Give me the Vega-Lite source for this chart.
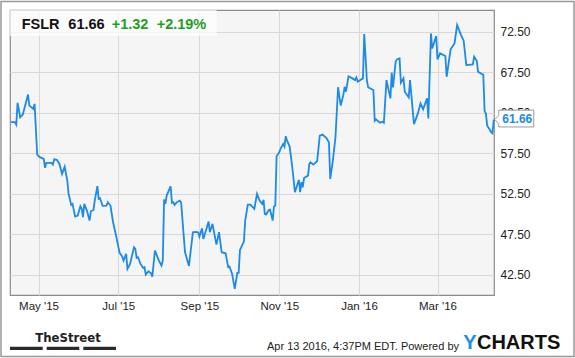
{
  "$schema": "https://vega.github.io/schema/vega-lite/v6.json",
  "width": 484,
  "height": 285,
  "autosize": {"type": "none"},
  "padding": {"left": 10, "top": 10, "right": 81, "bottom": 63},
  "background": "white",
  "config": {
    "view": {"stroke": "#8c8c8c", "strokeWidth": 1.2, "fill": "#f5f5f5"},
    "axis": {"gridColor": "#d8d8d8", "gridWidth": 1, "domain": false, "ticks": false, "labelColor": "#222222", "labelFont": "Liberation Sans", "labelFontSize": 12, "title": null},
    "text": {"font": "Liberation Sans"}
  },
  "data": {"values": [
    {"date": "2015-04-10", "price": 61.33}, {"date": "2015-04-13", "price": 61.33}, {"date": "2015-04-14", "price": 61.04},
    {"date": "2015-04-15", "price": 63.71}, {"date": "2015-04-17", "price": 61.94}, {"date": "2015-04-19", "price": 62.27},
    {"date": "2015-04-23", "price": 64.74}, {"date": "2015-04-24", "price": 63.38}, {"date": "2015-04-27", "price": 62.97},
    {"date": "2015-04-28", "price": 63.59}, {"date": "2015-04-30", "price": 57.34}, {"date": "2015-05-02", "price": 57.01},
    {"date": "2015-05-05", "price": 56.80}, {"date": "2015-05-06", "price": 55.69}, {"date": "2015-05-07", "price": 56.31},
    {"date": "2015-05-11", "price": 56.31}, {"date": "2015-05-12", "price": 56.10}, {"date": "2015-05-13", "price": 56.76},
    {"date": "2015-05-15", "price": 56.68}, {"date": "2015-05-17", "price": 56.18}, {"date": "2015-05-19", "price": 54.95},
    {"date": "2015-05-21", "price": 55.85}, {"date": "2015-05-23", "price": 54.13}, {"date": "2015-05-24", "price": 52.48},
    {"date": "2015-05-26", "price": 51.12}, {"date": "2015-05-27", "price": 51.25}, {"date": "2015-05-29", "price": 49.68},
    {"date": "2015-05-31", "price": 49.80}, {"date": "2015-06-02", "price": 50.96}, {"date": "2015-06-03", "price": 50.63},
    {"date": "2015-06-04", "price": 49.60}, {"date": "2015-06-05", "price": 51.25}, {"date": "2015-06-07", "price": 50.42},
    {"date": "2015-06-09", "price": 49.19}, {"date": "2015-06-10", "price": 50.34}, {"date": "2015-06-12", "price": 50.50},
    {"date": "2015-06-13", "price": 51.66}, {"date": "2015-06-15", "price": 53.43}, {"date": "2015-06-16", "price": 51.86},
    {"date": "2015-06-17", "price": 51.94}, {"date": "2015-06-19", "price": 51.00}, {"date": "2015-06-22", "price": 51.04},
    {"date": "2015-06-23", "price": 51.45}, {"date": "2015-06-25", "price": 51.04}, {"date": "2015-06-27", "price": 48.98},
    {"date": "2015-06-29", "price": 47.54}, {"date": "2015-07-02", "price": 45.20}, {"date": "2015-07-04", "price": 44.74},
    {"date": "2015-07-05", "price": 44.25}, {"date": "2015-07-07", "price": 45.07}, {"date": "2015-07-08", "price": 43.22},
    {"date": "2015-07-10", "price": 43.84}, {"date": "2015-07-13", "price": 45.90}, {"date": "2015-07-14", "price": 45.69},
    {"date": "2015-07-15", "price": 44.58}, {"date": "2015-07-16", "price": 44.66}, {"date": "2015-07-18", "price": 43.84},
    {"date": "2015-07-20", "price": 43.34}, {"date": "2015-07-21", "price": 43.43}, {"date": "2015-07-22", "price": 42.52},
    {"date": "2015-07-24", "price": 42.93}, {"date": "2015-07-26", "price": 42.69}, {"date": "2015-07-27", "price": 42.27},
    {"date": "2015-07-29", "price": 45.48}, {"date": "2015-07-30", "price": 45.07}, {"date": "2015-08-01", "price": 44.25},
    {"date": "2015-08-03", "price": 43.63}, {"date": "2015-08-04", "price": 44.25}, {"date": "2015-08-05", "price": 51.78},
    {"date": "2015-08-06", "price": 51.25}, {"date": "2015-08-07", "price": 52.27}, {"date": "2015-08-10", "price": 53.43},
    {"date": "2015-08-11", "price": 51.37}, {"date": "2015-08-12", "price": 51.45}, {"date": "2015-08-13", "price": 51.12},
    {"date": "2015-08-15", "price": 51.49}, {"date": "2015-08-17", "price": 51.66}, {"date": "2015-08-18", "price": 51.45},
    {"date": "2015-08-21", "price": 45.28}, {"date": "2015-08-24", "price": 43.59}, {"date": "2015-08-27", "price": 47.75},
    {"date": "2015-08-29", "price": 47.79}, {"date": "2015-08-31", "price": 47.75}, {"date": "2015-09-01", "price": 47.21},
    {"date": "2015-09-03", "price": 48.24}, {"date": "2015-09-04", "price": 46.92}, {"date": "2015-09-06", "price": 47.95},
    {"date": "2015-09-08", "price": 49.06}, {"date": "2015-09-09", "price": 47.75}, {"date": "2015-09-11", "price": 48.78},
    {"date": "2015-09-14", "price": 46.22}, {"date": "2015-09-16", "price": 47.75}, {"date": "2015-09-18", "price": 45.28},
    {"date": "2015-09-21", "price": 45.15}, {"date": "2015-09-23", "price": 43.43}, {"date": "2015-09-24", "price": 43.51},
    {"date": "2015-09-26", "price": 42.60}, {"date": "2015-09-28", "price": 40.75}, {"date": "2015-09-30", "price": 42.73},
    {"date": "2015-10-01", "price": 42.73}, {"date": "2015-10-02", "price": 45.57}, {"date": "2015-10-05", "price": 46.59},
    {"date": "2015-10-06", "price": 49.19}, {"date": "2015-10-08", "price": 51.16}, {"date": "2015-10-10", "price": 51.16},
    {"date": "2015-10-13", "price": 50.63}, {"date": "2015-10-15", "price": 52.48}, {"date": "2015-10-17", "price": 51.66},
    {"date": "2015-10-19", "price": 51.25}, {"date": "2015-10-20", "price": 51.74}, {"date": "2015-10-21", "price": 50.01},
    {"date": "2015-10-22", "price": 49.93}, {"date": "2015-10-24", "price": 50.50}, {"date": "2015-10-25", "price": 50.54},
    {"date": "2015-10-27", "price": 49.19}, {"date": "2015-10-28", "price": 50.96}, {"date": "2015-10-29", "price": 51.04},
    {"date": "2015-10-30", "price": 57.13}, {"date": "2015-11-01", "price": 57.62}, {"date": "2015-11-02", "price": 58.03},
    {"date": "2015-11-04", "price": 58.65}, {"date": "2015-11-05", "price": 58.32}, {"date": "2015-11-06", "price": 59.60},
    {"date": "2015-11-07", "price": 59.06}, {"date": "2015-11-09", "price": 58.32}, {"date": "2015-11-11", "price": 55.77},
    {"date": "2015-11-13", "price": 52.69}, {"date": "2015-11-15", "price": 53.71}, {"date": "2015-11-16", "price": 54.21},
    {"date": "2015-11-17", "price": 52.69}, {"date": "2015-11-18", "price": 53.92}, {"date": "2015-11-19", "price": 53.30},
    {"date": "2015-11-20", "price": 54.45}, {"date": "2015-11-23", "price": 54.74}, {"date": "2015-11-24", "price": 56.18},
    {"date": "2015-11-25", "price": 56.39}, {"date": "2015-11-27", "price": 56.10}, {"date": "2015-11-30", "price": 56.51},
    {"date": "2015-12-02", "price": 59.68}, {"date": "2015-12-04", "price": 59.80}, {"date": "2015-12-07", "price": 59.39},
    {"date": "2015-12-09", "price": 58.86}, {"date": "2015-12-10", "price": 54.33}, {"date": "2015-12-12", "price": 56.59},
    {"date": "2015-12-14", "price": 59.47}, {"date": "2015-12-16", "price": 65.65}, {"date": "2015-12-18", "price": 63.38},
    {"date": "2015-12-20", "price": 64.68}, {"date": "2015-12-21", "price": 65.70}, {"date": "2015-12-22", "price": 65.10},
    {"date": "2015-12-24", "price": 67.00}, {"date": "2015-12-27", "price": 66.74}, {"date": "2015-12-29", "price": 66.53},
    {"date": "2015-12-30", "price": 66.86}, {"date": "2015-12-31", "price": 66.33}, {"date": "2016-01-04", "price": 66.74},
    {"date": "2016-01-05", "price": 72.21}, {"date": "2016-01-07", "price": 66.53}, {"date": "2016-01-08", "price": 65.63},
    {"date": "2016-01-12", "price": 65.30}, {"date": "2016-01-13", "price": 61.51}, {"date": "2016-01-14", "price": 61.68},
    {"date": "2016-01-17", "price": 61.27}, {"date": "2016-01-19", "price": 61.39}, {"date": "2016-01-20", "price": 61.27},
    {"date": "2016-01-22", "price": 66.53}, {"date": "2016-01-25", "price": 64.27}, {"date": "2016-01-26", "price": 67.44},
    {"date": "2016-01-27", "price": 65.63}, {"date": "2016-01-29", "price": 68.80}, {"date": "2016-01-30", "price": 69.08},
    {"date": "2016-02-01", "price": 69.21}, {"date": "2016-02-02", "price": 66.20}, {"date": "2016-02-04", "price": 66.74},
    {"date": "2016-02-05", "price": 65.09}, {"date": "2016-02-08", "price": 64.39}, {"date": "2016-02-09", "price": 66.53},
    {"date": "2016-02-12", "price": 61.10}, {"date": "2016-02-15", "price": 62.42}, {"date": "2016-02-17", "price": 63.65},
    {"date": "2016-02-19", "price": 62.91}, {"date": "2016-02-22", "price": 64.27}, {"date": "2016-02-23", "price": 61.80},
    {"date": "2016-02-25", "price": 72.29}, {"date": "2016-02-26", "price": 70.44}, {"date": "2016-02-29", "price": 71.96},
    {"date": "2016-03-01", "price": 69.08}, {"date": "2016-03-03", "price": 69.83}, {"date": "2016-03-07", "price": 69.50},
    {"date": "2016-03-08", "price": 66.94}, {"date": "2016-03-11", "price": 70.32}, {"date": "2016-03-14", "price": 71.06},
    {"date": "2016-03-16", "price": 73.32}, {"date": "2016-03-19", "price": 72.09}, {"date": "2016-03-21", "price": 71.39},
    {"date": "2016-03-23", "price": 68.38}, {"date": "2016-03-28", "price": 68.47}, {"date": "2016-03-29", "price": 69.41},
    {"date": "2016-03-31", "price": 68.92}, {"date": "2016-04-01", "price": 67.56}, {"date": "2016-04-04", "price": 67.27},
    {"date": "2016-04-05", "price": 67.20}, {"date": "2016-04-06", "price": 62.70}, {"date": "2016-04-07", "price": 62.40},
    {"date": "2016-04-08", "price": 60.90}, {"date": "2016-04-10", "price": 60.40}, {"date": "2016-04-11", "price": 60.10},
    {"date": "2016-04-12", "price": 59.95}, {"date": "2016-04-13", "price": 61.66}
  ]},
  "layer": [
    {
      "data": {"values": [{}]},
      "mark": {"type": "rect", "fill": "white", "opacity": 0.72},
      "encoding": {
        "x": {"datum": {"year": 2015, "month": 4, "date": 9, "hours": 5, "utc": true}, "type": "temporal"},
        "x2": {"datum": {"year": 2015, "month": 9, "date": 14, "hours": 5, "utc": true}},
        "y": {"datum": 75.18, "type": "quantitative"},
        "y2": {"datum": 71.97}
      }
    },
    {
      "mark": {"type": "line", "color": "#1c8ae6", "strokeWidth": 1.8},
      "encoding": {
        "x": {
          "field": "date", "type": "temporal",
          "scale": {"type": "utc", "domain": [{"year": 2015, "month": 4, "date": 9, "hours": 5, "utc": true}, {"year": 2016, "month": 4, "date": 13, "hours": 4, "minutes": 30, "utc": true}]},
          "axis": {
            "values": [{"year": 2015, "month": 5, "date": 1, "utc": true}, {"year": 2015, "month": 7, "date": 1, "utc": true}, {"year": 2015, "month": 9, "date": 1, "utc": true}, {"year": 2015, "month": 11, "date": 1, "utc": true}, {"year": 2016, "month": 1, "date": 1, "utc": true}, {"year": 2016, "month": 3, "date": 1, "utc": true}],
            "labelExpr": "utcFormat(datum.value, \"%b '%y\")", "labelFontSize": 11.5, "labelPadding": 5, "grid": true, "title": null
          }
        },
        "y": {
          "field": "price", "type": "quantitative",
          "scale": {"domain": [40.0, 75.18], "nice": false, "zero": false},
          "axis": {"orient": "right", "values": [42.5, 47.5, 52.5, 57.5, 62.5, 67.5, 72.5], "format": ".2f", "labelPadding": 6, "grid": true, "title": null}
        }
      }
    },
    {
      "data": {"values": [{}]},
      "mark": {"type": "text", "text": "FSLR", "align": "left", "baseline": "alphabetic", "fontSize": 14.5, "fontWeight": "bold", "color": "#111111"},
      "encoding": {
        "x": {"datum": {"year": 2015, "month": 4, "date": 18, "hours": 4, "utc": true}, "type": "temporal"},
        "y": {"datum": 72.835, "type": "quantitative"}
      }
    },
    {
      "data": {"values": [{}]},
      "mark": {"type": "text", "text": "61.66", "align": "left", "baseline": "alphabetic", "fontSize": 14.5, "fontWeight": "bold", "color": "#111111"},
      "encoding": {
        "x": {"datum": {"year": 2015, "month": 5, "date": 23, "hours": 19, "utc": true}, "type": "temporal"},
        "y": {"datum": 72.835, "type": "quantitative"}
      }
    },
    {
      "data": {"values": [{}]},
      "mark": {"type": "text", "text": "+1.32", "align": "left", "baseline": "alphabetic", "fontSize": 14.5, "fontWeight": "bold", "color": "#1f9f1f"},
      "encoding": {
        "x": {"datum": {"year": 2015, "month": 6, "date": 25, "hours": 23, "utc": true}, "type": "temporal"},
        "y": {"datum": 72.835, "type": "quantitative"}
      }
    },
    {
      "data": {"values": [{}]},
      "mark": {"type": "text", "text": "+2.19%", "align": "left", "baseline": "alphabetic", "fontSize": 14.5, "fontWeight": "bold", "color": "#1f9f1f"},
      "encoding": {
        "x": {"datum": {"year": 2015, "month": 7, "date": 30, "hours": 8, "utc": true}, "type": "temporal"},
        "y": {"datum": 72.835, "type": "quantitative"}
      }
    },
    {
      "data": {"values": [{}]},
      "mark": {"type": "point", "shape": "M0.05,0 L0.25,-0.2 L0.25,-0.47 L2,-0.47 L2,0.37 L0.25,0.37 L0.25,0.2 Z", "size": 1600, "filled": true, "fill": "white", "stroke": "#9a9a9a", "strokeWidth": 1, "opacity": 1},
      "encoding": {
        "x": {"datum": {"year": 2016, "month": 4, "date": 13, "utc": true}, "type": "temporal"},
        "y": {"datum": 61.66, "type": "quantitative"}
      }
    },
    {
      "data": {"values": [{}]},
      "mark": {"type": "text", "text": "61.66", "align": "center", "baseline": "middle", "dx": 23.5, "dy": -1, "fontSize": 12, "fontWeight": "bold", "color": "#1c8ae6"},
      "encoding": {
        "x": {"datum": {"year": 2016, "month": 4, "date": 13, "utc": true}, "type": "temporal"},
        "y": {"datum": 61.66, "type": "quantitative"}
      }
    },
    {
      "data": {"values": [{}]},
      "mark": {"type": "text", "text": "TheStreet", "align": "left", "baseline": "alphabetic", "font": "Liberation Sans Narrow, Arial Narrow, DejaVu Sans Condensed, Liberation Sans, sans-serif", "fontSize": 13, "fontWeight": "bold", "color": "#222222"},
      "encoding": {
        "x": {"datum": {"year": 2015, "month": 4, "date": 28, "hours": 12, "utc": true}, "type": "temporal"},
        "y": {"datum": 34.23, "type": "quantitative"}
      }
    },
    {
      "data": {"values": [{}]},
      "mark": {"type": "rule", "color": "#2a2a2a", "strokeWidth": 3.3},
      "encoding": {
        "x": {"datum": {"year": 2015, "month": 4, "date": 9, "hours": 5, "utc": true}, "type": "temporal"},
        "x2": {"datum": {"year": 2015, "month": 5, "date": 4, "hours": 5, "utc": true}},
        "y": {"datum": 33.42, "type": "quantitative"}
      }
    },
    {
      "data": {"values": [{}]},
      "mark": {"type": "rule", "color": "#2a2a2a", "strokeWidth": 3.3},
      "encoding": {
        "x": {"datum": {"year": 2015, "month": 5, "date": 7, "hours": 6, "utc": true}, "type": "temporal"},
        "x2": {"datum": {"year": 2015, "month": 6, "date": 1, "hours": 4, "utc": true}},
        "y": {"datum": 33.42, "type": "quantitative"}
      }
    },
    {
      "data": {"values": [{}]},
      "mark": {"type": "rule", "color": "#2a2a2a", "strokeWidth": 3.3},
      "encoding": {
        "x": {"datum": {"year": 2015, "month": 6, "date": 4, "hours": 6, "utc": true}, "type": "temporal"},
        "x2": {"datum": {"year": 2015, "month": 6, "date": 29, "hours": 6, "utc": true}},
        "y": {"datum": 33.42, "type": "quantitative"}
      }
    },
    {
      "data": {"values": [{}]},
      "mark": {"type": "text", "text": "Apr 13 2016, 4:37PM EDT.  Powered by", "align": "right", "baseline": "alphabetic", "fontSize": 11, "color": "#222222"},
      "encoding": {
        "x": {"datum": {"year": 2016, "month": 3, "date": 17, "hours": 10, "minutes": 30, "utc": true}, "type": "temporal"},
        "y": {"datum": 33.21, "type": "quantitative"}
      }
    },
    {
      "data": {"values": [{}]},
      "mark": {"type": "text", "text": "Y", "align": "left", "baseline": "alphabetic", "fontSize": 20, "fontWeight": "bold", "color": "#1b8fe3"},
      "encoding": {
        "x": {"datum": {"year": 2016, "month": 3, "date": 20, "hours": 17, "utc": true}, "type": "temporal"},
        "y": {"datum": 33.33, "type": "quantitative"}
      }
    },
    {
      "data": {"values": [{}]},
      "mark": {"type": "text", "text": "CHARTS", "align": "left", "baseline": "alphabetic", "fontSize": 20, "fontWeight": "bold", "color": "#111111"},
      "encoding": {
        "x": {"datum": {"year": 2016, "month": 3, "date": 31, "hours": 4, "utc": true}, "type": "temporal"},
        "y": {"datum": 33.33, "type": "quantitative"}
      }
    },
    {
      "data": {"values": [{}]},
      "mark": {"type": "rect", "fillOpacity": 0, "stroke": "#999999", "strokeWidth": 1.5},
      "encoding": {
        "x": {"datum": {"year": 2015, "month": 4, "date": 2, "hours": 8, "utc": true}, "type": "temporal"},
        "x2": {"datum": {"year": 2016, "month": 6, "date": 13, "hours": 8, "minutes": 30, "utc": true}},
        "y": {"datum": 76.23, "type": "quantitative"},
        "y2": {"datum": 32.41}
      }
    }
  ]
}
